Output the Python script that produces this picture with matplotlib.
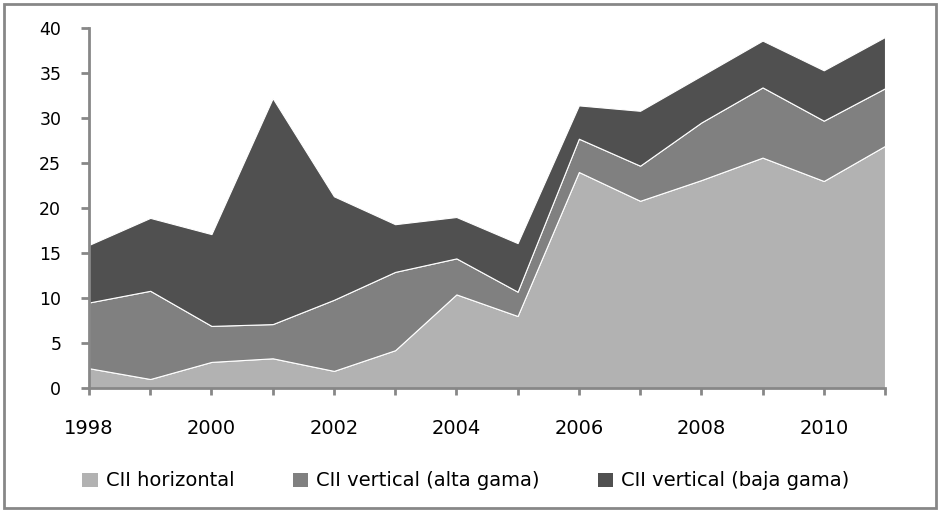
import numpy as np
import matplotlib.pyplot as plt
from matplotlib.patches import Patch, Rectangle

years = list(range(1998, 2012))
cii_horizontal = [2.2, 1.0, 2.9, 3.3, 1.9, 4.2, 10.4, 8.0, 24.0, 20.8, 23.1, 25.6, 23.0, 26.9]
cii_alta = [7.3, 9.8, 4.0, 3.8, 7.9, 8.7, 4.0, 2.7, 3.7, 3.9, 6.4, 7.8, 6.7, 6.4]
cii_baja = [6.4, 8.1, 10.2, 25.1, 11.5, 5.3, 4.6, 5.4, 3.7, 6.1, 5.2, 5.2, 5.6, 5.7]
labels = ['CII horizontal', 'CII vertical (alta gama)', 'CII vertical (baja gama)']
colors = ['#b2b2b2', '#808080', '#505050']
axis_gray = '#878787'

plt.rcParams['font.family'] = 'DejaVu Sans'

fig = plt.figure(figsize=(9.4, 5.12), dpi=100)
ax = fig.add_axes([89/940, 1-388/512, (885-89)/940, (388-28)/512])

ax.stackplot(years, cii_horizontal, cii_alta, cii_baja, colors=colors, edgecolor='white', linewidth=0.8)

ax.set_xlim(1998, 2011)
ax.set_ylim(0, 40)
ax.set_yticks(np.arange(0, 41, 5))
ax.set_xticks(years)
ax.set_xticklabels([str(y) if y % 2 == 0 else '' for y in years])

for s in ['top', 'right']:
    ax.spines[s].set_visible(False)
for s in ['left', 'bottom']:
    ax.spines[s].set_color(axis_gray)
    ax.spines[s].set_linewidth(2)
ax.tick_params(axis='y', length=6, width=2, color=axis_gray, labelsize=12.5, pad=14)
ax.tick_params(axis='x', length=5, width=2, color=axis_gray, labelsize=14, pad=17)

handles = [Patch(facecolor=c, edgecolor='none') for c in colors]
fig.legend(handles, labels, loc='center', bbox_to_anchor=(466/940, 1-481/512), ncol=3, frameon=False,
           fontsize=14, handlelength=0.8, handleheight=0.7, handletextpad=0.4, columnspacing=3.0)

fig.patches.append(Rectangle((4/940, 4/512), 932/940, 504/512, transform=fig.transFigure,
                             fill=False, edgecolor=axis_gray, linewidth=2))

fig.savefig('out.png', dpi=100)
